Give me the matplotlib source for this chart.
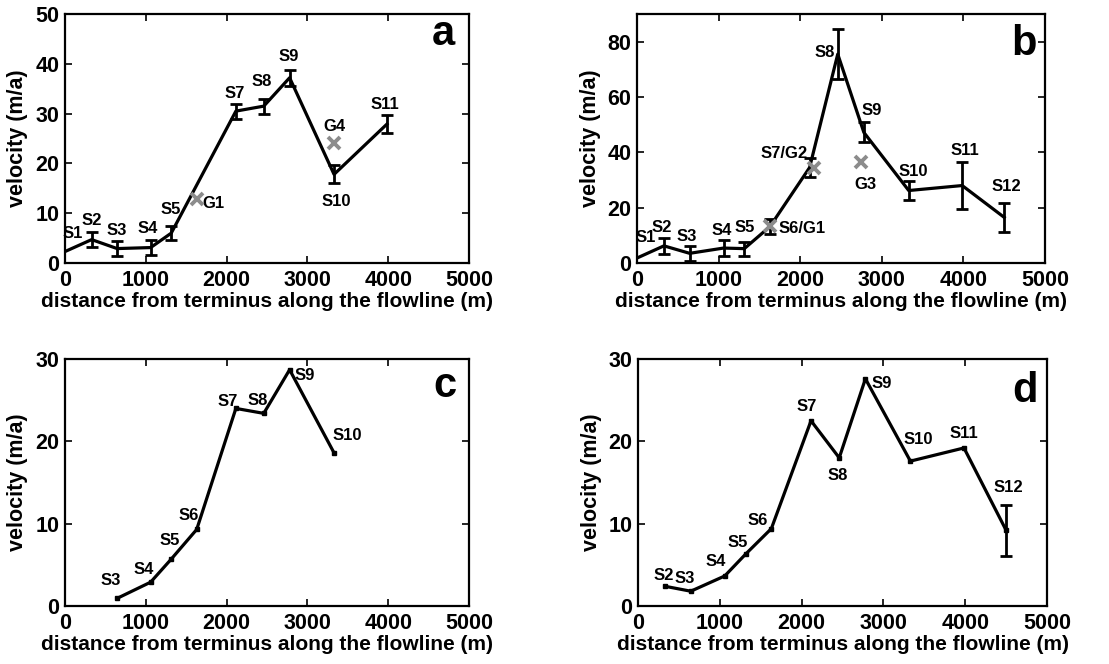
import numpy as np
import matplotlib
matplotlib.use('Agg')
from matplotlib import pyplot as plt

# station distances from terminus along the flowline (m)
stations = ['S1', 'S2', 'S3', 'S4', 'S5', 'S6', 'S7', 'S8', 'S9', 'S10', 'S11', 'S12']
distance = [0, 330, 645, 1060, 1315, 1630, 2115, 2460, 2780, 3330, 3985, 4500]

# panel a
a_stations = ['S1', 'S2', 'S3', 'S4', 'S5', 'S7', 'S8', 'S9', 'S10', 'S11']
a_vel = [2.3, 4.7, 2.9, 3.1, 6.0, 30.5, 31.5, 37.2, 17.8, 27.9]
a_err = [0, 1.45, 1.45, 1.45, 1.45, 1.5, 1.5, 1.6, 1.8, 1.8]
a_gps = ['G1', 'G4']
a_gps_dist = [1628, 3331]
a_gps_vel = [12.8, 24.0]

# panel b
b_stations = stations
b_vel = [1.8, 6.2, 3.5, 5.4, 5.2, 13.2, 34.5, 75.5, 47.2, 26.2, 28.0, 16.5]
b_err = [0, 2.9, 2.6, 2.8, 2.5, 2.6, 3.5, 9.0, 3.6, 3.5, 8.6, 5.2]
b_gps_dist = [1630, 2170, 2745]
b_gps_vel = [13.5, 34.5, 36.5]
b_labels = ['S1', 'S2', 'S3', 'S4', 'S5', 'S6/G1', 'S7/G2', 'S8', 'S9', 'S10', 'S11', 'S12']

# panel c
c_stations = ['S3', 'S4', 'S5', 'S6', 'S7', 'S8', 'S9', 'S10']
c_vel = [0.93, 2.9, 5.7, 9.3, 24.0, 23.4, 28.7, 18.6]

# panel d
d_stations = ['S2', 'S3', 'S4', 'S5', 'S6', 'S7', 'S8', 'S9', 'S10', 'S11', 'S12']
d_vel = [2.4, 1.8, 3.65, 6.3, 9.4, 22.5, 18.0, 27.6, 17.6, 19.2, 9.2]
d_err = [0, 0, 0, 0, 0, 0, 0, 0, 0, 0, 3.1]

# label offsets (pixels)
a_off = [(8, 18), (0, 19), (0, 18), (-3, 19), (-1, 24), (-1, 18), (-2, 25), (-1, 21), (2, -27), (-2, 20)]
a_gps_off = [(17, -4), (0, 17)]
b_off = [(9, 21), (-2, 18), (-3, 17), (-2, 18), (0, 21), (32, -2), (-26, 14), (-13, 2),
         (8, 22), (5, 19), (3, 35), (2, 31)]
b_gps_off = [(4, -22)]
c_off = [(-6, 18), (-7, 13), (-2, 19), (-8, 14), (-8, 7), (-6, 13), (15, -6), (13, 17)]
d_off = [(-1, 11), (-6, 13), (-9, 14), (-8, 12), (-14, 8), (-4, 14), (-2, -18), (16, -5),
         (8, 22), (0, 14), (2, 43)]

plt.rcParams['font.family'] = ['Liberation Sans', 'DejaVu Sans']
plt.rcParams['font.weight'] = 'bold'
plt.rcParams['axes.labelweight'] = 'bold'

fig = plt.figure(figsize=(11.09, 6.64), dpi=100)
ax_a = fig.add_axes([0.0586, 0.6039, 0.3643, 0.375])
ax_b = fig.add_axes([0.5744, 0.6039, 0.3679, 0.375])
ax_c = fig.add_axes([0.0586, 0.0873, 0.3643, 0.372])
ax_d = fig.add_axes([0.5753, 0.0873, 0.3688, 0.372])

gray = '#8c8c8c'


def xs(names):
    return np.array([distance[stations.index(n)] for n in names])


def style(ax, ylim, yticks, letter, lx, ly):
    ax.set_xlim(0, 5000)
    ax.set_ylim(*ylim)
    ax.set_xticks(range(0, 5001, 1000))
    ax.set_yticks(yticks)
    ax.tick_params(direction='in', top=True, right=True, length=5, width=1.2,
                   labelsize=15.5)
    ax.tick_params(axis='x', pad=5)
    ax.tick_params(axis='y', pad=4)
    for lab in ax.get_xticklabels() + ax.get_yticklabels():
        lab.set_fontweight('bold')
    for sp in ax.spines.values():
        sp.set_linewidth(1.6)
    ax.set_xlabel('distance from terminus along the flowline (m)', fontsize=15, labelpad=1)
    ax.set_ylabel('velocity (m/a)', fontsize=15.5, labelpad=5)
    ax.text(lx, ly, letter, transform=ax.transAxes, ha='right', va='baseline',
            fontsize=30, fontweight='bold')


def labels(ax, x, y, names, offs):
    for xi, yi, n, o in zip(x, y, names, offs):
        ax.annotate(n, (xi, yi), xytext=o, textcoords='offset pixels',
                    ha='center', va='center', fontsize=12, fontweight='bold')


def errbars(ax, x, y, err):
    err = np.array(err)
    m = err > 0
    ax.errorbar(x[m], np.array(y)[m], yerr=err[m], fmt='none', ecolor='k',
                elinewidth=2, capsize=4, capthick=2, zorder=3)


# a
x = xs(a_stations)
ax_a.plot(x, a_vel, 'k-', lw=2.3, zorder=2)
errbars(ax_a, x, a_vel, a_err)
ax_a.plot(a_gps_dist, a_gps_vel, 'x', color=gray, ms=9, mew=2.8, zorder=4)
labels(ax_a, x, a_vel, a_stations, a_off)
labels(ax_a, a_gps_dist, a_gps_vel, a_gps, a_gps_off)
style(ax_a, (0, 50), range(0, 51, 10), 'a', 0.965, 0.876)

# b
x = xs(b_stations)
ax_b.plot(x, b_vel, 'k-', lw=2.3, zorder=2)
errbars(ax_b, x, b_vel, b_err)
ax_b.plot(b_gps_dist, b_gps_vel, 'x', color=gray, ms=9, mew=2.8, zorder=4)
labels(ax_b, x, b_vel, b_labels, b_off)
labels(ax_b, b_gps_dist[2:], b_gps_vel[2:], ['G3'], b_gps_off)
style(ax_b, (0, 90), range(0, 81, 20), 'b', 0.980, 0.835)

# c
x = xs(c_stations)
ax_c.plot(x, c_vel, 'k-', lw=2.3, marker='s', ms=3, zorder=2)
labels(ax_c, x, c_vel, c_stations, c_off)
style(ax_c, (0, 30), range(0, 31, 10), 'c', 0.970, 0.846)

# d
x = xs(d_stations)
ax_d.plot(x, d_vel, 'k-', lw=2.3, marker='s', ms=3, zorder=2)
errbars(ax_d, x, d_vel, d_err)
labels(ax_d, x, d_vel, d_stations, d_off)
style(ax_d, (0, 30), range(0, 31, 10), 'd', 0.978, 0.826)

fig.savefig('out.png', dpi=100)
